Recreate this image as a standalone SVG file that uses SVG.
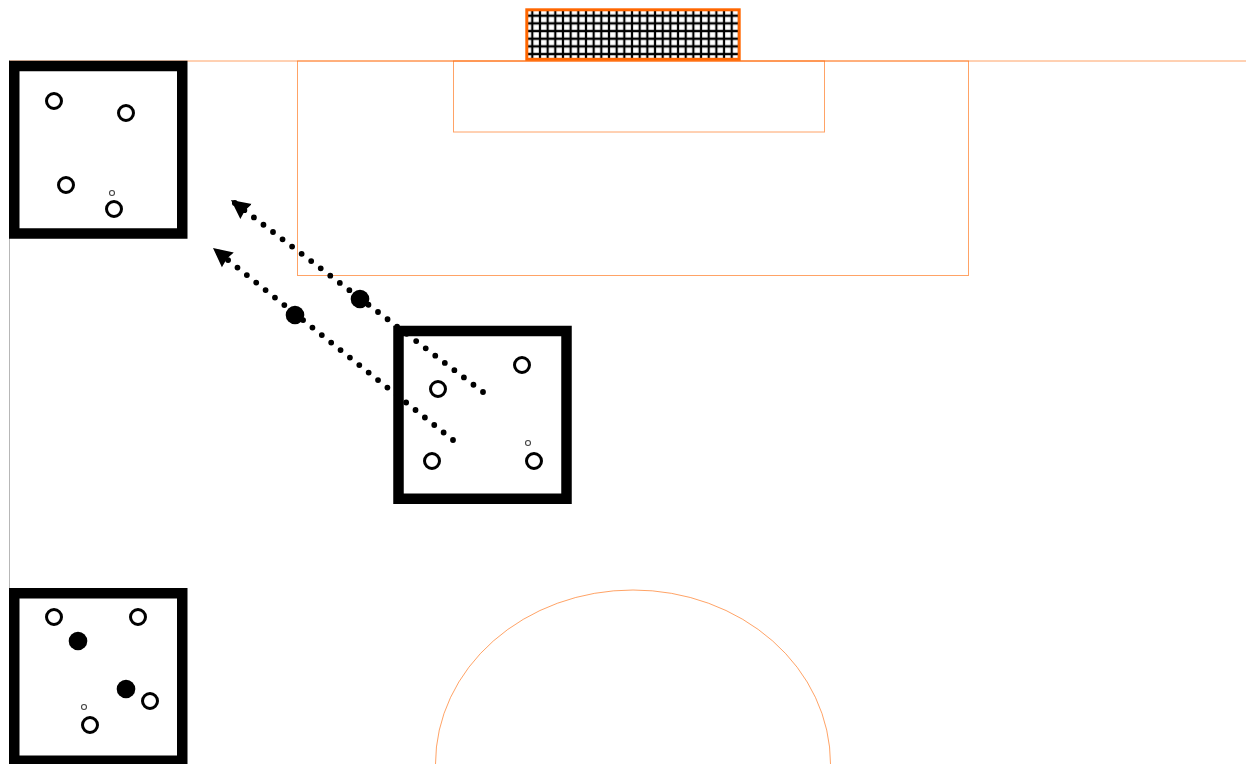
<svg xmlns="http://www.w3.org/2000/svg" width="1246" height="764" viewBox="0 0 1246 764">
<style>
.field{fill:none;stroke:#ff6600;stroke-width:1;stroke-opacity:.6}
.zone{fill:none;stroke:#000;stroke-width:10.5}
.ring{fill:#fff;stroke:#000;stroke-width:3}
.ball{fill:#fff;stroke:#444;stroke-width:1.1}
.solid{fill:#000}
.run{fill:none;stroke:#000;stroke-width:5.8;stroke-linecap:round;stroke-dasharray:0 12;marker-end:url(#head)}
</style>
<defs>
<marker id="head" markerUnits="userSpaceOnUse" markerWidth="24" markerHeight="24" refX="19" refY="12" orient="auto">
<path d="M0,2.5 L19,12 L0,21.5 L1.5,12 Z" fill="#000"/>
</marker>
<pattern id="mesh" patternUnits="userSpaceOnUse" x="528.47" y="11.87" width="7.67" height="7.67">
<path d="M3.83,0V7.67M0,3.83H7.67" fill="none" stroke="#000" stroke-width="2.2"/>
</pattern>
</defs>
<rect width="1246" height="764" fill="#fff"/>
<g id="field">
<path class="field" d="M9.5,61H1246"/>
<path d="M9.5,60V590" fill="none" stroke="#999" stroke-width="1" stroke-opacity=".7"/>
<rect class="field" x="297.5" y="61" width="671" height="214.5"/>
<rect class="field" x="453.5" y="61" width="371" height="71"/>
<path class="field" d="M435.5,764A197.5,174 0 0 1 830.5,764"/>
</g>
<g id="goal">
<rect x="526.8" y="9.8" width="212.4" height="49.5" fill="url(#mesh)" stroke="#ff6600" stroke-width="3"/>
</g>
<g id="connectors">
<path class="run" d="M483,392L231,200"/>
<path class="run" d="M453,440L213,248"/>
</g>
<g id="zone-top-left">
<rect class="zone" x="14.25" y="66" width="168" height="167.5"/>
<circle class="ring" cx="54" cy="101" r="7.5"/>
<circle class="ring" cx="126" cy="113" r="7.5"/>
<circle class="ring" cx="66" cy="185" r="7.5"/>
<circle class="ring" cx="114" cy="209" r="7.5"/>
<circle class="ball" cx="112" cy="193" r="2.5"/>
</g>
<g id="zone-center">
<rect class="zone" x="398.5" y="331" width="168" height="167.75"/>
<circle class="ring" cx="522" cy="365" r="7.5"/>
<circle class="ring" cx="438" cy="389" r="7.5"/>
<circle class="ring" cx="432" cy="461" r="7.5"/>
<circle class="ring" cx="534" cy="461" r="7.5"/>
<circle class="ball" cx="528" cy="443" r="2.5"/>
</g>
<g id="zone-bottom-left">
<rect class="zone" x="14.25" y="593.25" width="168" height="167.5"/>
<circle class="ring" cx="54" cy="617" r="7.5"/>
<circle class="ring" cx="138" cy="617" r="7.5"/>
<circle class="ring" cx="150" cy="701" r="7.5"/>
<circle class="ring" cx="90" cy="725" r="7.5"/>
<circle class="ball" cx="84" cy="707" r="2.5"/>
<circle class="solid" cx="78" cy="641" r="9.3"/>
<circle class="solid" cx="126" cy="689" r="9.3"/>
</g>
<g id="runner-1"><circle class="solid" cx="360" cy="299" r="9.3"/></g>
<g id="runner-2"><circle class="solid" cx="295" cy="315" r="9.3"/></g>
</svg>
